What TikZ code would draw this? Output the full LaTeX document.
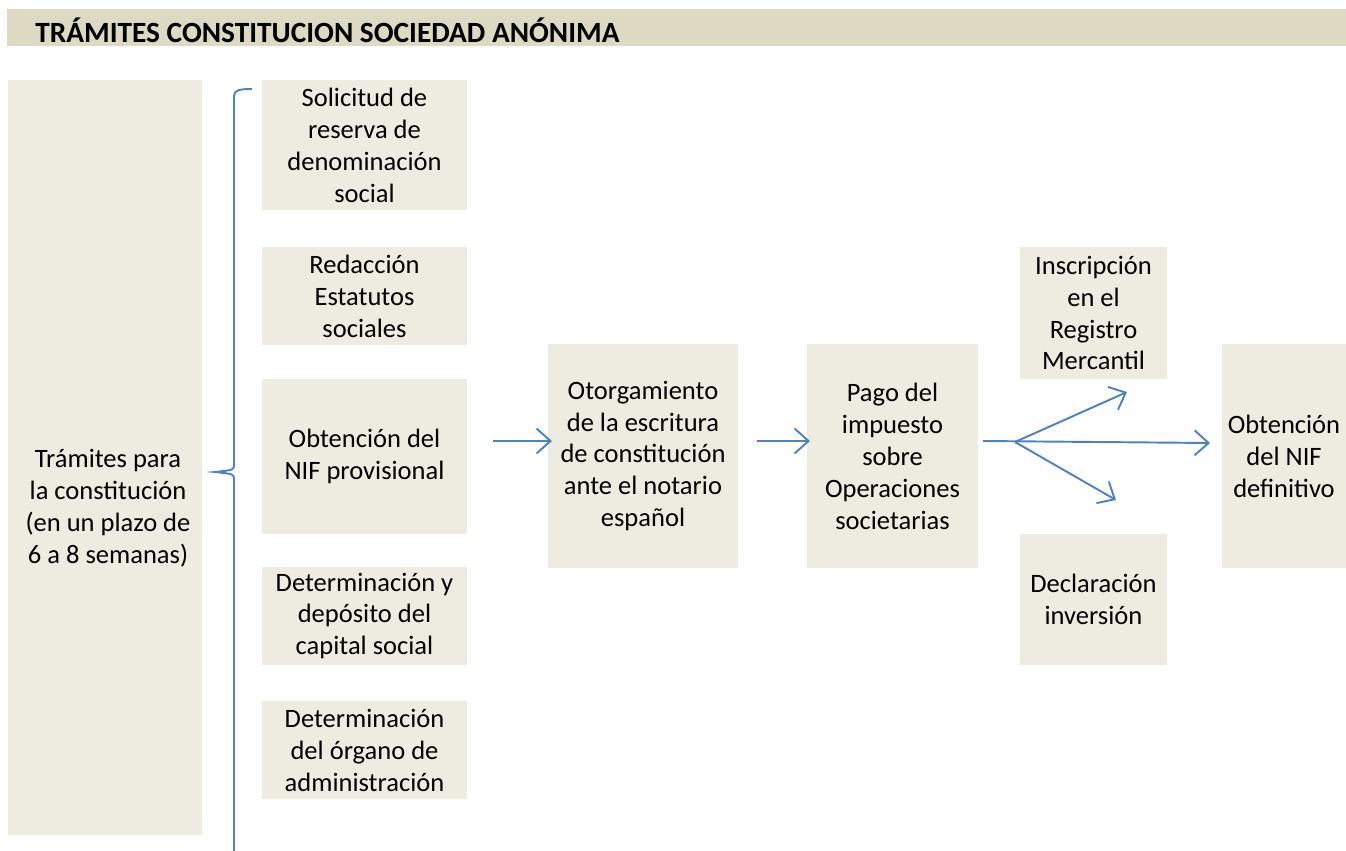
\documentclass[tikz,border=0pt]{standalone}
\usepackage{fontspec}
\setmainfont{Carlito}
\usetikzlibrary{arrows.meta}

\definecolor{boxfill}{HTML}{EEECE1}
\definecolor{barfill}{HTML}{DDD9C3}
\definecolor{lineblue}{HTML}{4F81BD}

\tikzset{
  box/.style={fill=boxfill, align=center, inner sep=0pt, font=\fontsize{15.1}{18.2}\selectfont},
  arr/.style={draw=lineblue, line width=1.1pt, -{Straight Barb[length=2.8mm,width=5mm,line width=1.1pt]}},
}

\begin{document}
\begin{tikzpicture}[x=0.02cm, y=-0.02cm]
    \useasboundingbox (0,0) rectangle (1346,851);
    % title bar
    \fill[barfill] (7,9) rectangle (1346,46);
    \node[anchor=west, inner sep=0pt, font=\fontsize{16.7}{20}\selectfont\bfseries] (title) at (35,30) {TRÁMITES CONSTITUCION SOCIEDAD ANÓNIMA};

    % left column
    \node[box, minimum width=3.88cm, minimum height=15.1cm] (plazo) at (105,457.5) {};
    \node[box] (plazotxt) at (108,508) {Trámites para\\la constitución\\(en un plazo de\\6 a 8 semanas)};

    % first steps
    \node[box, minimum width=4.1cm, minimum height=2.6cm] (reserva) at (364.5,145) {Solicitud de\\reserva de\\denominación\\social};
    \node[box, minimum width=4.1cm, minimum height=1.96cm] (estatutos) at (364.5,296) {Redacción\\Estatutos\\sociales};
    \node[box, minimum width=4.1cm, minimum height=3.1cm] (nifprov) at (364.5,456.5) {Obtención del\\NIF provisional};
    \node[box, minimum width=4.1cm, minimum height=1.96cm] (capital) at (364.5,616) {Determinación y\\depósito del\\capital social};
    \node[box, minimum width=4.1cm, minimum height=1.96cm] (organo) at (364.5,750) {Determinación\\del órgano de\\administración};

    % brace
    \draw[lineblue, line width=1.1pt] (252,89) .. controls (240,89) and (234,90) .. (234,96)
      -- (234,464) .. controls (234,470) .. (215,472) .. controls (234,474) .. (234,480) -- (234,851);

    % later steps
    \node[box, minimum width=3.8cm, minimum height=4.48cm] (escritura) at (643,456) {Otorgamiento\\de la escritura\\de constitución\\ante el notario\\español};
    \node[box, minimum width=3.42cm, minimum height=4.48cm] (impuesto) at (892.5,456) {Pago del\\impuesto\\sobre\\Operaciones\\societarias};
    \node[box, minimum width=2.94cm, minimum height=2.64cm] (registro) at (1093.5,313) {Inscripción\\en el\\Registro\\Mercantil};
    \node[box, minimum width=2.94cm, minimum height=2.62cm] (inversion) at (1093.5,599.5) {Declaración\\inversión};
    \node[box, minimum width=2.48cm, minimum height=4.48cm] (nifdef) at (1284,456) {Obtención\\del NIF\\definitivo};

    % arrows
    \coordinate (a1) at (493,441);
    \coordinate (a2) at (552,441);
    \coordinate (b1) at (757,441);
    \coordinate (b2) at (810,441);
    \coordinate (c1) at (983,441);
    \coordinate (fork) at (1015,442);
    \coordinate (c2) at (1210,443);
    \coordinate (up) at (1127,392);
    \coordinate (down) at (1116,500);
    \draw[arr] (a1) -- (a2);
    \draw[arr] (b1) -- (b2);
    \draw[arr] (c1) -- (c2);
    \draw[arr] (fork) -- (up);
    \draw[arr] (fork) -- (down);
\end{tikzpicture}
\end{document}
